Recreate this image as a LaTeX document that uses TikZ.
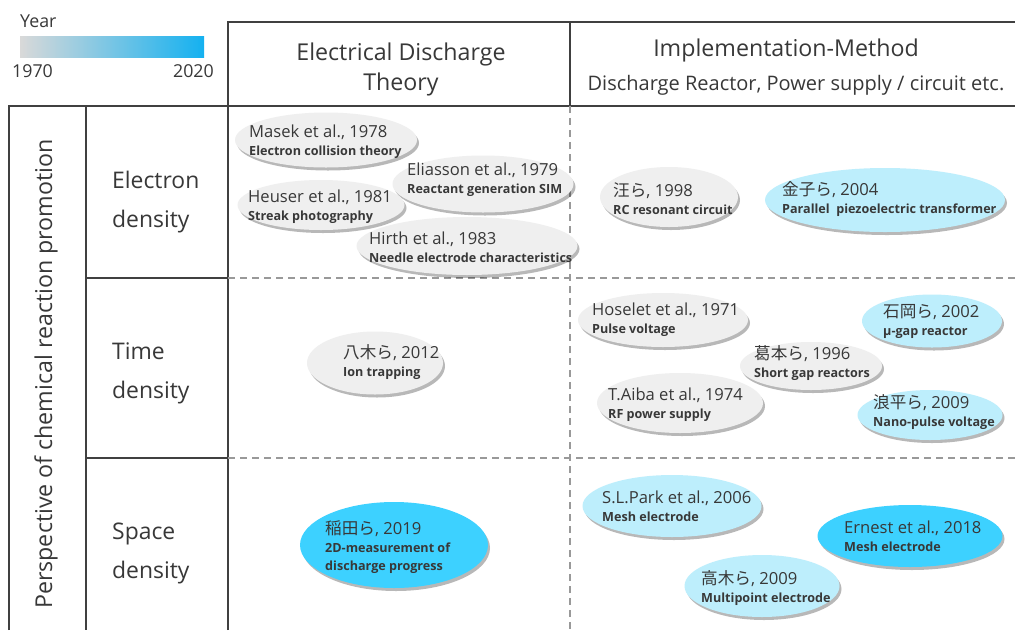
\documentclass[tikz,border=0pt]{standalone}
\usepackage{fontspec}
\setmainfont{Open Sans}
\newfontfamily\ja{Noto Sans CJK JP}
\usetikzlibrary{shapes.geometric,shadows}
\definecolor{txt}{HTML}{383838}
\definecolor{grid}{HTML}{404040}
\definecolor{dash}{HTML}{999999}
\definecolor{cg}{HTML}{EFEFEF}
\definecolor{cl}{HTML}{BDEEFC}
\definecolor{cb}{HTML}{3DD1FF}
\definecolor{barL}{HTML}{D9D9D9}
\definecolor{barR}{HTML}{14B1F0}
\newcommand\bub[9]{%
  \node[ell, fill=#6, minimum width=#4pt, minimum height=#5pt] (#1) at (#2,#3) {};
  \node[ttl] (#1t) at (#7) {#8};
  \node[sub] (#1s) at ([yshift=-18.5pt]#1t.base west) {#9};}
\begin{document}
\begin{tikzpicture}[x=1pt,y=-1pt,
  ell/.style={ellipse, inner sep=0pt, draw=none,
    drop shadow={shadow xshift=2pt, shadow yshift=-3pt, fill=black, opacity=0.28}},
  ttl/.style={anchor=base west, inner sep=0pt, text=txt, font=\fontsize{16.6}{19}\selectfont},
  sub/.style={anchor=base west, inner sep=0pt, text=txt, font=\fontsize{12.6}{18}\selectfont\bfseries},
  solidline/.style={draw=grid, line width=1.3pt},
  dashline/.style={draw=dash, line width=1.3pt, dash pattern=on 7pt off 5pt},
  hdr/.style={text=txt, inner sep=0pt, font=\fontsize{23.2}{30}\selectfont, align=center},
  rowlbl/.style={text=txt, inner sep=0pt, anchor=west, font=\fontsize{22.9}{39}\selectfont, align=left},
  leg/.style={text=txt, inner sep=0pt, font=\fontsize{17.8}{20}\selectfont}]
\useasboundingbox (0,0) rectangle (1015,630);
\fill[white] (0,0) rectangle (1015,630);

% legend
\node[leg, anchor=base west] (year) at (20,27) {Year};
\shade[left color=barL, right color=barR] (20,36) rectangle (204,57);
\node[leg, anchor=base west] (y1970) at (12,77) {1970};
\node[leg, anchor=base east] (y2020) at (214,77) {2020};

% grid
\draw[solidline] (228,630) -- (228,22) -- (1015,22);
\draw[solidline] (570,22) -- (570,106);
\draw[solidline] (9,630) -- (9,106) -- (1015,106);
\draw[solidline] (86,106) -- (86,630);
\draw[solidline] (86,278) -- (228,278);
\draw[solidline] (86,458) -- (228,458);
\draw[dashline] (228,278) -- (1015,278);
\draw[dashline] (228,458) -- (1015,458);
\draw[dashline] (570,106) -- (570,630);

% headers
\node[hdr] (h1) at (401,69) {Electrical Discharge\\Theory};
\node[hdr] (h2) at (786,50) {Implementation-Method};
\node[text=txt, inner sep=0pt, font=\fontsize{20}{22}\selectfont] (h2s) at (796,85) {Discharge Reactor, Power supply / circuit etc.};
\node[rowlbl] (r1) at (112,202) {Electron\\density};
\node[rowlbl] (r2) at (112,373) {Time\\density};
\node[rowlbl] (r3) at (112,553) {Space\\density};
\node[text=txt, inner sep=0pt, rotate=90, font=\fontsize{23.2}{25}\selectfont] (persp) at (46,374) {Perspective of chemical reaction promotion};

% bubbles: Electron density / theory
\bub{masek}{326}{140}{182}{55}{cg}{249,137}{Masek et al., 1978}{Electron collision theory}
\bub{elia}{483}{184}{181}{57}{cg}{407,175}{Eliasson et al., 1979}{Reactant generation SIM}
\bub{heuser}{321}{205}{167}{50}{cg}{248,202}{Heuser et al., 1981}{Streak photography}
\bub{hirth}{467}{246}{221}{58}{cg}{369,244}{Hirth et al., 1983}{Needle electrode characteristics}
% Electron density / method
\bub{wang}{669}{197}{138}{60}{cg}{613,196}{{\ja 汪ら}, 1998}{RC resonant circuit}
\bub{kaneko}{885}{200}{240}{64}{cl}{782,195}{{\ja 金子ら}, 2004}{Parallel\ \ piezoelectric transformer}
% Time density
\bub{yagi}{375}{363}{136}{63}{cg}{343,358}{{\ja 八木ら}, 2012}{Ion trapping}
\bub{hoselet}{663}{320}{170}{54}{cg}{592,315}{Hoselet et al., 1971}{Pulse voltage}
\bub{ishioka}{932}{321}{140}{53}{cl}{883,317}{{\ja 石岡ら}, 2002}{μ-gap reactor}
\bub{kuzu}{811}{366}{142}{48}{cg}{754,359}{{\ja 葛本ら}, 1996}{Short gap reactors}
\bub{aiba}{680}{403}{166}{60}{cg}{608,400}{T.Aiba et al., 1974}{RF power supply}
\bub{namihira}{930}{415}{145}{50}{cl}{873,408}{{\ja 浪平ら}, 2009}{Nano-pulse voltage}
% Space density
\bub{inada}{394}{545}{188}{86}{cb}{325,534}{{\ja 稲田ら}, 2019}{2D-measurement of}
\node[sub] (inadas2) at ([yshift=-18pt]inadas.base west) {discharge progress};
\bub{park}{672}{506}{179}{62}{cl}{602,503}{S.L.Park et al., 2006}{Mesh electrode}
\bub{ernest}{910}{536}{185}{62}{cb}{844,533}{Ernest et al., 2018}{Mesh electrode}
\bub{takagi}{762}{586}{155}{62}{cl}{701,584}{{\ja 高木ら}, 2009}{Multipoint electrode}
\end{tikzpicture}
\end{document}
